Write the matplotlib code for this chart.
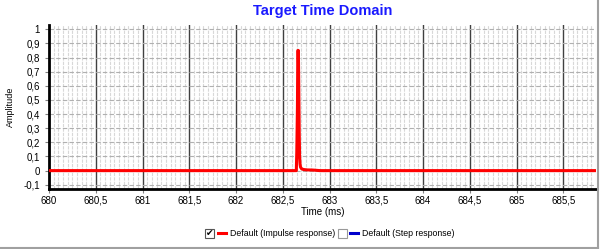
import numpy as np
import matplotlib.pyplot as plt
from matplotlib.patches import Rectangle
from matplotlib.lines import Line2D
from matplotlib.ticker import MultipleLocator, FuncFormatter

plt.rcParams['font.family'] = ['Liberation Sans', 'DejaVu Sans']

# impulse response (time in ms, amplitude)
time_ms = [680.0, 682.645, 682.65, 682.657, 682.661, 682.667, 682.671, 682.676,
           682.68, 682.685, 682.69, 682.70, 682.72, 682.76, 682.82, 682.9, 685.85]
amplitude = [0.0, 0.0, 0.13, 0.45, 0.85, 0.85, 0.6, 0.27,
             0.1, 0.045, 0.025, 0.014, 0.008, 0.005, 0.004, 0.0, 0.0]

fig = plt.figure(figsize=(6, 2.49), dpi=100)
ax = fig.add_axes([49 / 600, 60 / 249, 547 / 600, 164 / 249])

ax.plot(time_ms, amplitude, color='#ff0000', lw=2.2, zorder=3)

ax.set_xlim(680, 685.85)
ax.set_ylim(-0.13, 1.03)
ax.xaxis.set_major_locator(MultipleLocator(0.5))
ax.xaxis.set_minor_locator(MultipleLocator(0.05))
ax.yaxis.set_major_locator(MultipleLocator(0.1))

comma = FuncFormatter(lambda v, p: ('%g' % round(v, 2)).replace('.', ','))
ax.xaxis.set_major_formatter(comma)
ax.yaxis.set_major_formatter(comma)

ax.grid(which='major', axis='x', color='#404040', lw=1.0, ls='-')
ax.grid(which='minor', axis='x', color='#d8d8d8', lw=0.8, ls=(0, (3, 1)))
ax.grid(which='major', axis='y', color='#b0b0b0', lw=0.8, ls=(0, (4, 2)))

for s in ['top', 'right']:
    ax.spines[s].set_visible(False)
for s in ['left', 'bottom']:
    ax.spines[s].set_linewidth(2)
    ax.spines[s].set_color('black')

ax.tick_params(which='major', labelsize=7, length=3, width=0.8, color='#808080')
ax.tick_params(axis='x', which='major', pad=2)
ax.tick_params(which='minor', length=0)

ax.set_ylabel('Amplitude', fontsize=6.5, labelpad=6)
ax.set_xlabel('Time (ms)', fontsize=7, labelpad=1)
ax.set_title('Target Time Domain', fontsize=10.5, fontweight='bold', color='#1a1aff', pad=7)

# legend with checkboxes
fig.patches.append(Rectangle((205 / 600, 1 - 238 / 249), 9 / 600, 9 / 249,
                             transform=fig.transFigure, fc='white', ec='#555555', lw=0.8))
fig.text(209.5 / 600, 1 - 233.5 / 249, '\u2714', fontsize=6.5, ha='center', va='center',
         family=['DejaVu Sans'])
fig.lines.append(Line2D([218 / 600, 226 / 600], [1 - 233 / 249, 1 - 233 / 249],
                        transform=fig.transFigure, color='#ff0000', lw=2.2))
fig.text(230 / 600, 1 - 233 / 249, 'Default (Impulse response)', fontsize=6.3, va='center')

fig.patches.append(Rectangle((338 / 600, 1 - 238 / 249), 9 / 600, 9 / 249,
                             transform=fig.transFigure, fc='white', ec='#999999', lw=0.8))
fig.lines.append(Line2D([350 / 600, 358 / 600], [1 - 233 / 249, 1 - 233 / 249],
                        transform=fig.transFigure, color='#0000cc', lw=2.2))
fig.text(362 / 600, 1 - 233 / 249, 'Default (Step response)', fontsize=6.3, va='center')

# window frame
fig.lines.append(Line2D([597.5 / 600, 597.5 / 600], [1 - 248 / 249, 1],
                        transform=fig.transFigure, color='#a0a0a0', lw=1.5))
fig.lines.append(Line2D([0, 597.5 / 600], [1 - 247.5 / 249, 1 - 247.5 / 249],
                        transform=fig.transFigure, color='#a0a0a0', lw=1.5))

fig.savefig('out.png', dpi=100)
